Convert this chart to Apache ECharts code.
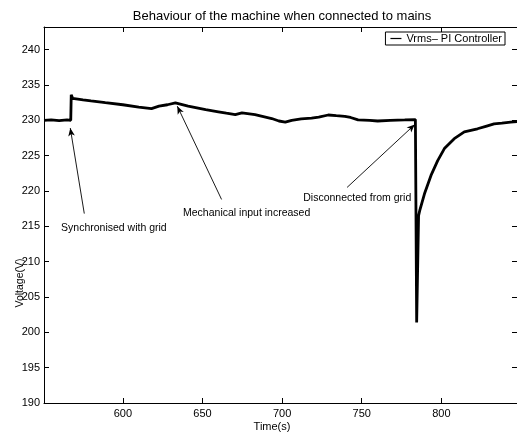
<!DOCTYPE html>
<html>
<head>
<meta charset="utf-8">
<script src="https://cdn.jsdelivr.net/npm/echarts@6/dist/echarts.min.js"></script>
<style>
  html, body { margin: 0; padding: 0; background: #fff; }
  #chart { width: 517px; height: 436px; }
</style>
</head>
<body>
<div id="chart"></div>
<script>
// Measured RMS voltage of the machine over time
const timeS = [550.5, 555, 560, 565, 567.3, 567.6, 568.5, 575, 580, 589, 600, 610, 618, 622.7, 628, 633,
  641, 652, 660, 665, 670.6, 674.8, 683, 693.5, 698, 702, 706, 712, 718.5, 723, 729, 734, 739.4, 743,
  747.7, 755, 760, 768, 777, 783.7, 784.5, 785.7, 786.5, 789.4, 793.5, 797.7, 801.9, 808.1, 814.4,
  822.7, 827.9, 833.1, 838, 843.5, 847.5];
const vrms = [230.0, 230.05, 229.95, 230.05, 230.0, 233.6, 233.1, 232.9, 232.75, 232.5, 232.2, 231.85,
  231.65, 232.0, 232.2, 232.45, 232.0, 231.5, 231.2, 231.0, 230.8, 231.05, 230.8, 230.25, 229.9, 229.75,
  230.0, 230.2, 230.3, 230.45, 230.75, 230.65, 230.55, 230.4, 230.05, 230.0, 229.9, 230.0, 230.05, 230.1,
  201.4, 216.5, 217.3, 219.6, 222.2, 224.3, 226.0, 227.4, 228.35, 228.8, 229.15, 229.5, 229.6, 229.75, 229.8];

const xTicks = [600, 650, 700, 750, 800];
const yTicks = [190, 195, 200, 205, 210, 215, 220, 225, 230, 235, 240];

// Event annotations: label anchor, arrow tail and arrow tip (time, voltage)
const notes = [
  { text: 'Synchronised with grid', at: [561.2, 214.7], tail: [575.8, 216.8], tip: [567.0, 228.9] },
  { text: 'Mechanical input increased', at: [637.8, 216.8], tail: [662.0, 218.8], tip: [634.2, 232.0] },
  { text: 'Disconnected from grid', at: [713.3, 219.0], tail: [740.8, 220.5], tip: [783.3, 229.4] }
];

const FONT = "'Liberation Sans', Arial, Helvetica, sans-serif";
const axisBase = {
  axisLine: { show: true, lineStyle: { color: '#000', width: 1 } },
  splitLine: { show: false }
};

const chart = echarts.init(document.getElementById('chart'), null, { renderer: 'canvas' });
chart.setOption({
  animation: false,
  backgroundColor: '#fff',
  textStyle: { fontFamily: FONT, color: '#000' },
  title: {
    text: 'Behaviour of the machine when connected to mains',
    left: 277, top: 5, textAlign: 'center',
    textStyle: { fontFamily: FONT, fontSize: 13, fontWeight: 'normal', color: '#000' }
  },
  legend: {
    data: ['Vrms– PI Controller'],
    right: 12, top: 32,
    padding: [0, 3, 0, 5],
    borderColor: '#000', borderWidth: 1,
    backgroundColor: '#fff',
    icon: 'rect', itemWidth: 11, itemHeight: 1.2,
    textStyle: { fontFamily: FONT, fontSize: 11, color: '#000', lineHeight: 13 }
  },
  grid: { left: 44, right: -2, top: 27, bottom: 33, containLabel: false },
  xAxis: [
    Object.assign({}, axisBase, {
      type: 'value', position: 'bottom', min: 550.5, max: 847.5,
      axisTick: { show: true, inside: true, length: 5, customValues: xTicks, lineStyle: { color: '#000' } },
      axisLabel: { show: true, margin: 5, customValues: xTicks, fontFamily: FONT, fontSize: 11, color: '#000' }
    }),
    Object.assign({}, axisBase, {
      type: 'value', position: 'top', min: 550.5, max: 847.5,
      axisTick: { show: true, inside: true, length: 5, customValues: xTicks, lineStyle: { color: '#000' } },
      axisLabel: { show: false }
    })
  ],
  yAxis: [
    Object.assign({}, axisBase, {
      type: 'value', position: 'left', min: 190, max: 243.2,
      axisTick: { show: true, inside: true, length: 5, customValues: yTicks, lineStyle: { color: '#000' } },
      axisLabel: { show: true, margin: 4, customValues: yTicks, fontFamily: FONT, fontSize: 11, color: '#000' }
    }),
    Object.assign({}, axisBase, {
      type: 'value', position: 'right', min: 190, max: 243.2,
      axisTick: { show: true, inside: true, length: 5, customValues: yTicks, lineStyle: { color: '#000' } },
      axisLabel: { show: false }
    })
  ],
  graphic: [
    {
      type: 'text', x: 20, y: 283, rotation: Math.PI / 2,
      style: { text: 'Voltage(V)', font: '10.5px ' + FONT, fill: '#000', align: 'center', verticalAlign: 'middle' }
    },
    {
      type: 'text', x: 272, y: 427,
      style: { text: 'Time(s)', font: '11px ' + FONT, fill: '#000', align: 'center', verticalAlign: 'middle' }
    }
  ],
  series: [{
    name: 'Vrms– PI Controller',
    type: 'line',
    xAxisIndex: 0, yAxisIndex: 0,
    data: timeS.map((t, i) => [t, vrms[i]]),
    showSymbol: false,
    symbol: 'none',
    color: '#000',
    lineStyle: { color: '#000', width: 2.8 },
    z: 3,
    markLine: {
      silent: true,
      symbol: ['none', 'arrow'],
      symbolSize: [5, 8],
      lineStyle: { color: '#000', width: 0.9, type: 'solid' },
      label: { show: false },
      data: notes.map(n => [{ coord: n.tail }, { coord: n.tip }])
    },
    markPoint: {
      silent: true,
      symbol: 'circle',
      symbolSize: 0,
      itemStyle: { color: 'rgba(0,0,0,0)' },
      label: {
        show: true, position: 'right', distance: 0, formatter: '{b}',
        fontFamily: FONT, fontSize: 10.5, color: '#000'
      },
      data: notes.map(n => ({ name: n.text, coord: n.at }))
    }
  }]
});
</script>
</body>
</html>
